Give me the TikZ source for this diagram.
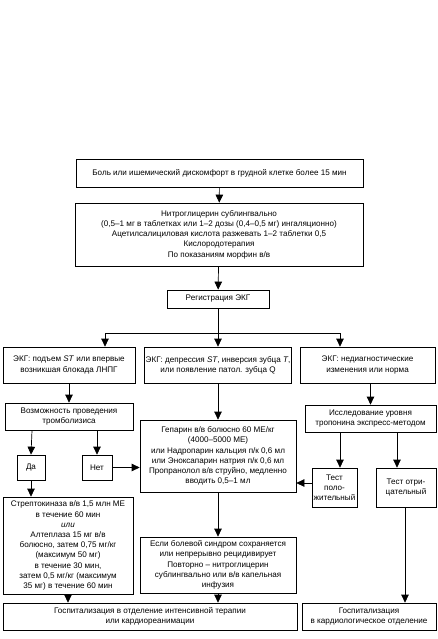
\documentclass[tikz,border=0pt]{standalone}
\usepackage{fontspec}
\setmainfont{Liberation Sans}
\usetikzlibrary{arrows.meta,calc}
\tikzset{
  box/.style={draw, line width=0.7pt, inner sep=1pt, align=center, anchor=center,
    font=\fontsize{8.1}{10.2}\selectfont},
  conn/.style={line width=0.7pt},
  arr/.style={line width=0.7pt, -{Triangle[width=7.5pt,length=8pt]}}
}
\newcommand{\bx}[6]{% name, x1, x2, y1, y2, text
  \node[box, minimum width={(#3-#2)*1pt}, minimum height={(#5-#4)*1pt}] (#1) at ({(#2+#3)/2},{(#4+#5)/2}) {#6};}
\begin{document}
\begin{tikzpicture}[x=1pt,y=-1pt]
\useasboundingbox (0,0) rectangle (438,639);
\bx{b1}{76}{363}{159}{187}{Боль или ишемический дискомфорт в грудной клетке более 15 мин}
\bx{b2}{75}{363}{203}{266}{Нитроглицерин сублингвально\\(0,5–1 мг в таблетках или 1–2 дозы (0,4–0,5 мг) ингаляционно)\\Ацетилсалициловая кислота разжевать 1–2 таблетки 0,5\\Кислородотерапия\\По показаниям морфин в/в}
\bx{b3}{167}{269}{290}{308}{Регистрация ЭКГ}
\bx{r4a}{3}{135}{347}{383}{ЭКГ: подъем \textit{ST} или впервые\\возникшая блокада ЛНПГ}
\bx{r4b}{145}{291}{347}{383}{ЭКГ: депрессия \textit{ST}, инверсия зубца \textit{T},\\или появление патол. зубца Q}
\bx{r4c}{300}{435}{347}{383}{ЭКГ: недиагностические\\изменения или норма}
\bx{b5a}{5}{133}{403}{430}{Возможность проведения\\тромболизиса}
\bx{da}{17}{45}{455}{480}{Да}
\bx{net}{82}{112}{455}{480}{Нет}
\bx{hep}{140}{296}{420}{492}{Гепарин в/в болюсно 60 МЕ/кг\\(4000–5000 МЕ)\\или Надропарин кальция п/к 0,6 мл\\или Эноксапарин натрия п/к 0,6 мл\\Пропранолол в/в струйно, медленно\\вводить 0,5–1 мл}
\bx{b5c}{305}{436}{405}{432}{Исследование уровня\\тропонина экспресс-методом}
\bx{tpos}{312}{357}{468}{507}{Тест\\поло-\\жительный}
\bx{tneg}{376}{436}{468}{507}{Тест отри-\\цательный}
\bx{b6a}{3}{133}{497}{594}{Стрептокиназа в/в 1,5 млн МЕ\\в течение 60 мин\\\textit{или}\\Алтеплаза 15 мг в/в\\болюсно, затем 0,75 мг/кг\\(максимум 50 мг)\\в течение 30 мин,\\затем 0,5 мг/кг (максимум\\35 мг) в течение 60 мин}
\bx{b6b}{140}{296}{537}{593}{Если болевой синдром сохраняется\\или непрерывно рецидивирует\\Повторно – нитроглицерин\\сублингвально или в/в капельная\\инфузия}
\bx{f7a}{3}{297}{603}{630}{Госпитализация в отделение интенсивной терапии\\или кардиореанимации}
\bx{f7b}{302}{436}{603}{630}{Госпитализация\\в кардиологическое отделение}
% connectors
\coordinate (hl) at (105,333);
\coordinate (hr) at (340,333);
\coordinate (xa) at (32,0);
\coordinate (xn) at (97,0);
\coordinate (xp) at (340,0);
\coordinate (xq) at (397,0);
\coordinate (xr) at (405,0);
\coordinate (xb) at (68,0);
\draw[arr] (b1) -- (b2);
\draw[arr] (b2) -- (b3);
\draw[conn] (hl) -- (hr);
\draw[arr] (b3) -- (r4b);
\draw[arr] (hl) -- (hl |- r4a.north);
\draw[arr] (hr) -- (hr |- r4c.north);
\draw[arr] (b5a.north |- r4a.south) -- (b5a.north);
\draw[arr] (xa |- b5a.south) -- (da.north);
\draw[arr] (xn |- b5a.south) -- (net.north);
\draw[arr] (net.east) -- (net.east -| hep.west);
\draw[arr] (da.south) -- (da.south |- b6a.north);
\draw[arr] (r4b) -- (hep);
\draw[arr] (b5c.north |- r4c.south) -- (b5c.north);
\draw[arr] (xp |- b5c.south) -- (xp |- tpos.north);
\draw[arr] (xq |- b5c.south) -- (xq |- tneg.north);
\draw[arr] (tpos.west |- 0,483) -- (hep.east |- 0,483);
\draw[arr] (xr |- tneg.south) -- (xr |- f7b.north);
\draw[arr] (hep) -- (b6b);
\draw[arr] (xb |- b6a.south) -- (xb |- f7a.north);
\draw[arr] (b6b.south) -- (b6b.south |- f7a.north);
\end{tikzpicture}
\end{document}
